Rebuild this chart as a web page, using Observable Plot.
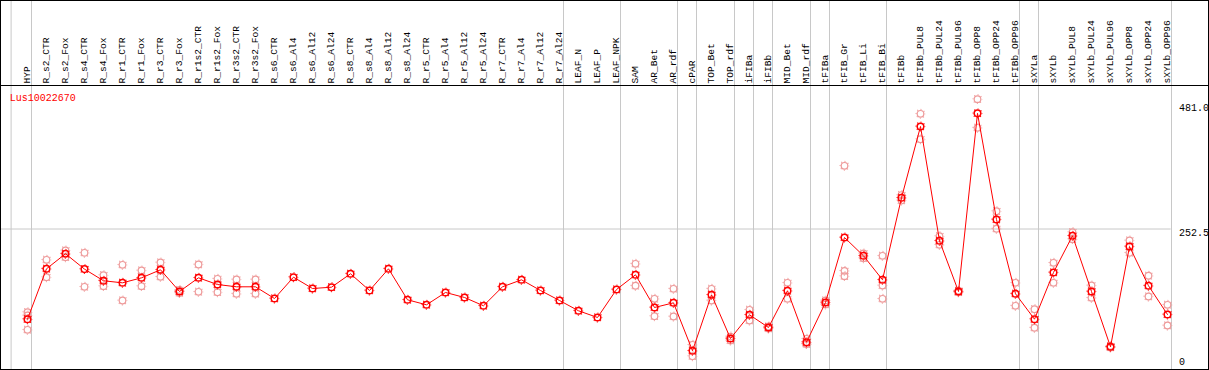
<!DOCTYPE html>
<html><head><meta charset="utf-8">
<script src="https://cdn.jsdelivr.net/npm/d3@7"></script>
<script src="https://cdn.jsdelivr.net/npm/@observablehq/plot@0.6"></script>
<style>
body{margin:0;background:#fff}
#chart svg{display:block;outline:1px solid #000;outline-offset:-1px}
</style></head><body><div id="chart"></div>
<script>
const title = "Lus10022670";
const categories = ["HYP","R_s2_CTR","R_s2_Fox","R_s4_CTR","R_s4_Fox","R_r1_CTR","R_r1_Fox","R_r3_CTR","R_r3_Fox","R_r1s2_CTR","R_r1s2_Fox","R_r3s2_CTR","R_r3s2_Fox","R_s6_CTR","R_s6_Al4","R_s6_Al12","R_s6_Al24","R_s8_CTR","R_s8_Al4","R_s8_Al12","R_s8_Al24","R_r5_CTR","R_r5_Al4","R_r5_Al12","R_r5_Al24","R_r7_CTR","R_r7_Al4","R_r7_Al12","R_r7_Al24","LEAF_N","LEAF_P","LEAF_NPK","SAM","AR_Bet","AR_rdf","cPAR","TOP_Bet","TOP_rdf","iFIBa","iFIBb","MID_Bet","MID_rdf","tFIBa","tFIB_Gr","tFIB_Li","tFIB_Bi","tFIBb","tFIBb_PUL8","tFIBb_PUL24","tFIBb_PUL96","tFIBb_OPP8","tFIBb_OPP24","tFIBb_OPP96","sXYLa","sXYLb","sXYLb_PUL8","sXYLb_PUL24","sXYLb_PUL96","sXYLb_OPP8","sXYLb_OPP24","sXYLb_OPP96"];
const means = [93.8,182.5,208.9,181.9,161.4,157.8,166.6,180.7,142.5,166.6,154.8,150.8,150.8,130.2,167.7,147.8,150.1,173.7,144.3,182.5,127.9,119.1,140.8,132.0,117.4,150.8,163.1,144.3,126.7,108.6,96.8,146.0,171.9,114.4,122.6,38.2,136.7,59.8,101.5,79.2,143.8,53.3,123.2,237.5,205.3,163.1,307.4,432.9,231.7,142.5,456.0,269.2,138.5,93.8,176.0,240.5,142.5,45.2,221.7,152.6,102.1];
const replicates = [[106.1,100.3,75.1],[198.3,167.7],[214.7,202.9],[210.6,150.8],[171.2,151.9],[189.5,126.7],[179.5,151.9],[193.6,168.4],[145.2,139.9],[190.0,142.0],[164.9,141.3],[163.6,138.5],[163.6,138.5],[],[],[],[],[],[],[],[],[],[],[],[],[],[],[],[],[],[],[],[191.3,152.6],[129.7,99.1],[147.3,98.5],[48.7,28.7],[147.3,126.7],[63.3,56.3],[110.3,91.5],[80.9,77.4],[157.8,129.7],[59.3,50.5,50.1],[126.7,119.7],[363.7,178.9,169.5],[201.1,209.4],[205.3,153.1,129.7],[302.7,312.2],[455.2,410.5],[239.8,224.7],[144.0,141.0],[481.0,430.6],[283.8,252.9],[157.8,117.4],[111.4,78.7],[193.0,157.8],[246.9,234.6],[153.1,131.4],[46.5,44.0],[232.3,210.6],[170.2,133.7],[119.1,82.7]];
const groupEnds = ["HYP","R_r7_Al24","LEAF_NPK","AR_rdf","cPAR","TOP_rdf","iFIBa","iFIBb","MID_rdf","tFIBa","tFIB_Bi","tFIBb_OPP96","sXYLa","sXYLb_OPP96"];
const axisTicks = [481.0, 252.5, 0];
const axisTickLabels = ["481.0","252.5","0"];
const gridValue = 252.5;
const yMax = 505;

const meanRows = categories.map((c,i)=>({cat:c, value:means[i]}));
const repRows = categories.flatMap((c,i)=>replicates[i].map(v=>({cat:c, value:v})));

const red = "#ff0000", pale = "#ee9a9a", grid = "#c8c8c8";
const gear = {r:4.4, fill:"none", strokeWidth:1.1, strokeDasharray:"1,2.456", strokeDashoffset:0.5};
const labelDy = [8.2, 3.3, -10.3];

const marks = [
  Plot.ruleX(groupEnds, {x:d=>d, dx:4, stroke:grid}),
  Plot.ruleX([categories[0]], {x:d=>d, dx:-16.4, stroke:grid}),
  Plot.ruleY([gridValue], {stroke:grid, insetRight:38.3}),
  Plot.ruleY([yMax], {stroke:"#000"}),
  Plot.text(categories, {x:d=>d, y:()=>yMax, text:d=>d, rotate:-90, textAnchor:"start", lineAnchor:"middle", dy:-2, dx:-0.5, fill:"#000", fontSize:9.6}),
  Plot.text([title], {y:()=>yMax, frameAnchor:"left", text:d=>d, textAnchor:"start", lineAnchor:"middle", dx:9.3, dy:12.3, fill:red, fontSize:10}),
  Plot.dot(repRows, {x:"cat", y:"value", r:3.3, stroke:pale, strokeWidth:1.2, fill:"none"}),
  Plot.dot(repRows, {x:"cat", y:"value", ...gear, stroke:pale}),
  Plot.line(meanRows, {x:"cat", y:"value", stroke:red, strokeWidth:1}),
  Plot.dot(meanRows, {x:"cat", y:"value", r:3.3, stroke:red, strokeWidth:1.5, fill:"none"}),
  Plot.dot(meanRows, {x:"cat", y:"value", ...gear, stroke:red})
];
axisTicks.forEach((t,i)=>{
  marks.push(Plot.text([t], {x:()=>categories[categories.length-1], y:d=>d, text:()=>axisTickLabels[i], textAnchor:"start", lineAnchor:"middle", dx:11.5, dy:labelDy[i], fill:"#000", fontSize:10}));
});

const chart = Plot.plot({
  width:1209, height:370,
  marginTop:0, marginBottom:0, marginLeft:0, marginRight:0,
  x:{type:"point", domain:categories, range:[26.7,1166.7], padding:0, axis:null},
  y:{domain:[0,yMax], range:[372,85], axis:null},
  style:{fontFamily:"'Liberation Mono', 'DejaVu Sans Mono', monospace", fontSize:"9.6px", background:"#fff", overflow:"hidden"},
  marks
});
document.getElementById("chart").append(chart);
</script></body></html>
